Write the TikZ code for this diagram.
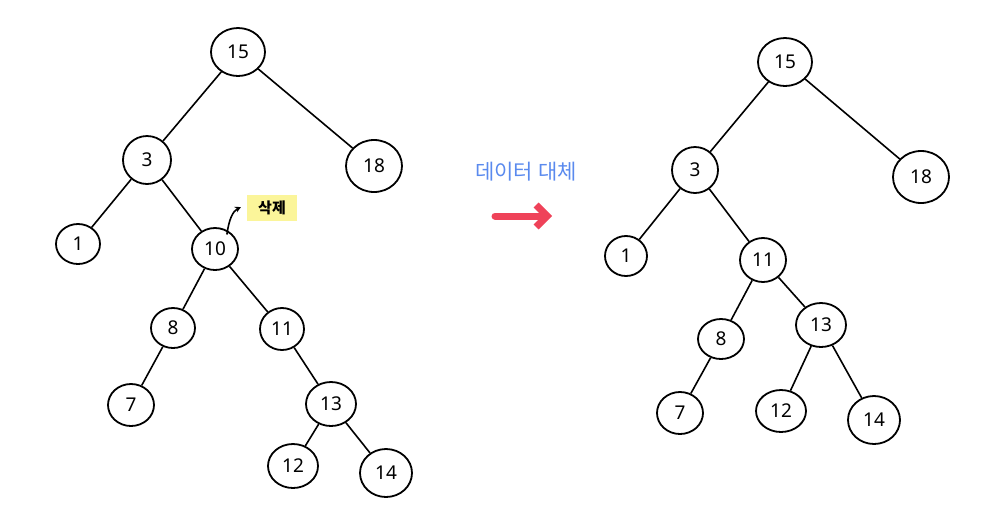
\documentclass[tikz,border=0pt]{standalone}
\usepackage{fontspec}
\setmainfont{Noto Sans}
\newfontfamily\kr{Noto Sans CJK KR}
\usetikzlibrary{shapes.geometric,arrows.meta}
\definecolor{hlyellow}{HTML}{FBF59A}
\definecolor{txtblue}{HTML}{5A8AEE}
\definecolor{arrred}{HTML}{EF4259}
\tikzset{
  tn/.style={draw, ellipse, line width=1.8pt, inner sep=0pt, font=\fontsize{19}{19}\selectfont},
  sz/.style 2 args={minimum width=#1pt, minimum height=#2pt},
  edge/.style={line width=1.6pt},
}
\begin{document}
\begin{tikzpicture}[x=1pt,y=-1pt]
\useasboundingbox (0,0) rectangle (1001,515);
% left tree
\node[tn,sz={54}{48}] (a15) at (238,52) {15};
\node[tn,sz={48}{48}] (a3) at (147,160) {3};
\node[tn,sz={56}{52}] (a18) at (374,166) {18};
\node[tn,sz={44}{40}] (a1) at (78,244) {1};
\node[tn,sz={46}{42}] (a10) at (215,249) {10};
\node[tn,sz={44}{40}] (a8) at (173,328) {8};
\node[tn,sz={44}{42}] (a11) at (282,329) {11};
\node[tn,sz={46}{42}] (a7) at (131,405) {7};
\node[tn,sz={50}{44}] (a13) at (331,404) {13};
\node[tn,sz={50}{44}] (a12) at (293,466) {12};
\node[tn,sz={52}{48}] (a14) at (386,473) {14};
\draw[edge] (a15) -- (a3);
\draw[edge] (a15) -- (a18);
\draw[edge] (a3) -- (a1);
\draw[edge] (a3) -- (a10);
\draw[edge] (a10) -- (a8);
\draw[edge] (a10) -- (a11);
\draw[edge] (a8) -- (a7);
\draw[edge] (a11) -- (a13);
\draw[edge] (a13) -- (a12);
\draw[edge] (a13) -- (a14);
% delete label
\node[fill=hlyellow, minimum width=50pt, minimum height=26pt, inner sep=0pt, font=\kr\fontsize{15}{15}\selectfont\bfseries] (del) at (272,208) {삭제};
\coordinate (delarr) at (241,207);
\draw[line width=1.6pt, -{Stealth[length=6pt,width=6pt]}] (a10.north east) ++(-5,1) .. controls (229,219) and (233,211) .. (delarr);
% middle
\node[text=txtblue, font=\kr\fontsize{21}{21}\selectfont] (lbl) at (526,172) {데이터 대체};
\coordinate (rs) at (495,216);
\coordinate (re) at (552,216);
\draw[arrred, line width=7pt, line cap=round, line join=round, -{Straight Barb[length=11pt,width=22pt,line width=7pt]}] (rs) -- (re);
% right tree
\node[tn,sz={54}{48}] (b15) at (785,62) {15};
\node[tn,sz={46}{46}] (b3) at (695,170) {3};
\node[tn,sz={56}{52}] (b18) at (921,177) {18};
\node[tn,sz={42}{40}] (b1) at (626,256) {1};
\node[tn,sz={46}{44}] (b11) at (763,260) {11};
\node[tn,sz={46}{40}] (b8) at (721,339) {8};
\node[tn,sz={50}{44}] (b13) at (821,325) {13};
\node[tn,sz={46}{42}] (b7) at (680,413) {7};
\node[tn,sz={50}{42}] (b12) at (781,411) {12};
\node[tn,sz={52}{48}] (b14) at (874,420) {14};
\draw[edge] (b15) -- (b3);
\draw[edge] (b15) -- (b18);
\draw[edge] (b3) -- (b1);
\draw[edge] (b3) -- (b11);
\draw[edge] (b11) -- (b8);
\draw[edge] (b11) -- (b13);
\draw[edge] (b8) -- (b7);
\draw[edge] (b13) -- (b12);
\draw[edge] (b13) -- (b14);
\end{tikzpicture}
\end{document}
